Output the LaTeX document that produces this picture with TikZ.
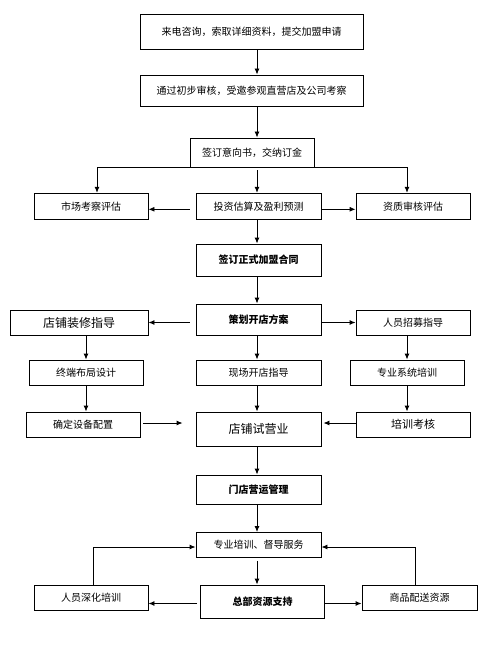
\documentclass[tikz,border=0pt]{standalone}
\usepackage{fontspec}
\setmainfont{Noto Sans CJK SC}
\usetikzlibrary{arrows.meta}
\tikzset{
  box/.style={draw, line width=0.9pt, rectangle, inner sep=0pt, font=\fontsize{10}{12}\selectfont, align=center},
  hbox/.style={box, font=\fontsize{10}{12}\selectfont\bfseries},
  arr/.style={-{Latex[length=6pt,width=5pt]}, line width=0.9pt},
  ln/.style={line width=0.9pt}
}
\begin{document}
\begin{tikzpicture}[x=1pt,y=-1pt]
\useasboundingbox[fill=white] (0,0) rectangle (500,647);
\coordinate (ax) at (257,0);
\coordinate (L) at (97,0);
\coordinate (R) at (407,0);
\coordinate (LL) at (86,0);
\coordinate (dl) at (93,0);
\coordinate (gr) at (415,0);
% nodes
\node[box, minimum width=223, minimum height=35] (b1) at (251.5,31.5) {来电咨询，索取详细资料，提交加盟申请};
\node[box, minimum width=223, minimum height=31] (b2) at (251.5,90.5) {通过初步审核，受邀参观直营店及公司考察};
\node[box, minimum width=124, minimum height=29] (b3) at (252,152.5) {签订意向书，交纳订金};
\node[box, minimum width=114, minimum height=26] (mkt) at (91,206.3) {市场考察评估};
\node[box, minimum width=125, minimum height=26] (inv) at (258.5,206.3) {投资估算及盈利预测};
\node[box, minimum width=114, minimum height=26] (qual) at (413,206.3) {资质审核评估};
\node[hbox, minimum width=125, minimum height=32] (con) at (258.5,260) {签订正式加盟合同};
\node[hbox, minimum width=125, minimum height=31] (plan) at (258.5,319.5) {策划开店方案};
\node[box, minimum width=138, minimum height=25, font=\fontsize{12}{14}\selectfont] (deco) at (79,322.5) {店铺装修指导};
\node[box, minimum width=114, minimum height=25] (rec) at (413,322.5) {人员招募指导};
\node[box, minimum width=114, minimum height=25] (lay) at (86,372.5) {终端布局设计};
\node[box, minimum width=125, minimum height=25] (site) at (258.5,372.5) {现场开店指导};
\node[box, minimum width=114, minimum height=25] (sys) at (407,372.5) {专业系统培训};
\node[box, minimum width=114, minimum height=25] (equ) at (83,424.5) {确定设备配置};
\node[box, minimum width=125, minimum height=34, font=\fontsize{12}{14}\selectfont] (trial) at (258.5,429) {店铺试营业};
\node[box, minimum width=114, minimum height=25, font=\fontsize{11}{13}\selectfont] (exam) at (413,424.5) {培训考核};
\node[hbox, minimum width=125, minimum height=29] (ops) at (258.5,489.5) {门店营运管理};
\node[box, minimum width=125, minimum height=25] (serv) at (258.5,545) {专业培训、督导服务};
\node[hbox, minimum width=124, minimum height=33] (hq) at (262.5,601.5) {总部资源支持};
\node[box, minimum width=114, minimum height=25] (deep) at (91,597.5) {人员深化培训};
\node[box, minimum width=115, minimum height=25] (goods) at (419.5,597.5) {商品配送资源};
% connectors
\draw[arr] (b1.south -| ax) -- (b2.north -| ax);
\draw[arr] (b2.south -| ax) -- (b3.north -| ax);
\draw[ln] (b3.south -| L) -- (b3.south -| R);
\draw[arr] (b3.south -| L) -- (mkt.north -| L);
\draw[arr] (b3.south -| R) -- (qual.north -| R);
\draw[arr, shorten <=3pt] (b3.south -| ax) -- (inv.north -| ax);
\draw[arr, shorten <=6pt] ([yshift=-3pt]inv.west) -- ([yshift=-3pt]inv.west -| mkt.east);
\draw[arr] ([yshift=-3pt]inv.east) -- ([yshift=-3pt]inv.east -| qual.west);
\draw[arr] (inv.south -| ax) -- (con.north -| ax);
\draw[arr] (con.south -| ax) -- (plan.north -| ax);
\draw[arr, shorten <=6pt] (plan.west |- deco) -- (deco.east);
\draw[arr] (plan.east |- rec) -- (rec.west);
\draw[arr] (deco.south -| LL) -- (lay.north -| LL);
\draw[arr] (lay.south -| LL) -- (equ.north -| LL);
\draw[arr] (plan.south -| ax) -- (site.north -| ax);
\draw[arr] (site.south -| ax) -- (trial.north -| ax);
\draw[arr] (rec.south -| R) -- (sys.north -| R);
\draw[arr] (sys.south -| R) -- (exam.north -| R);
\draw[arr, shorten <=3pt, shorten >=13pt] ([yshift=1.5pt]equ.east) -- ([yshift=1.5pt]equ.east -| trial.west);
\draw[arr, shorten >=2pt] ([yshift=1.5pt]exam.west) -- ([yshift=1.5pt]exam.west -| trial.east);
\draw[arr] (trial.south -| ax) -- (ops.north -| ax);
\draw[arr] (ops.south -| ax) -- (serv.north -| ax);
\draw[arr, shorten <=3pt] (serv.south -| ax) -- (hq.north -| ax);
\draw[arr, shorten <=3pt] ([yshift=-2pt]hq.west) -- ([yshift=-2pt]hq.west -| deep.east);
\draw[arr] ([yshift=-2pt]hq.east) -- ([yshift=-2pt]hq.east -| goods.west);
\draw[arr] (deep.north -| dl) |- ([yshift=-2pt]serv.west);
\draw[arr] (goods.north -| gr) |- ([yshift=-2pt]serv.east);
\end{tikzpicture}
\end{document}
